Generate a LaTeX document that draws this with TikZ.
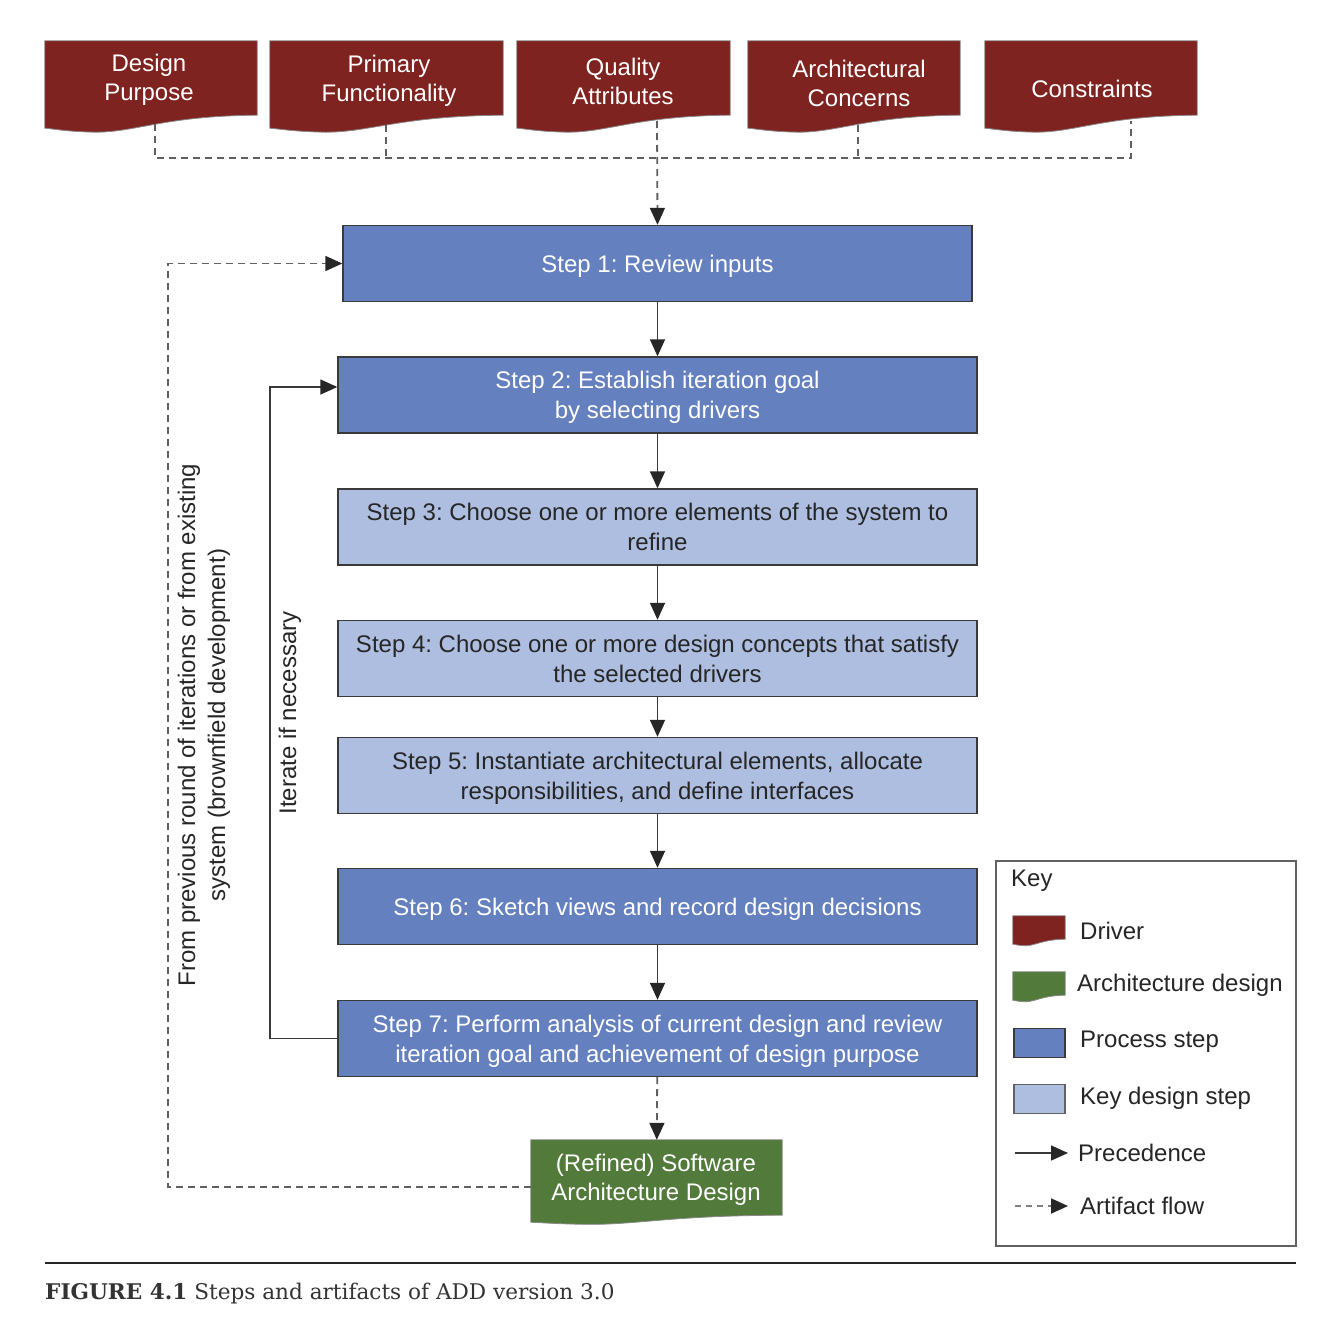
\documentclass[tikz,border=0pt]{standalone}
\usepackage{fontspec}
\setmainfont{Liberation Sans}
\newfontfamily\capfont{DejaVu Serif}
\usetikzlibrary{arrows.meta,calc}
\definecolor{drvred}{HTML}{7E2320}
\definecolor{stepdark}{HTML}{6580BE}
\definecolor{steplight}{HTML}{AEBEE0}
\definecolor{archgreen}{HTML}{527A3A}
\definecolor{edgegray}{HTML}{3A3A3A}
\definecolor{txtdark}{HTML}{262626}
\definecolor{dashgray}{HTML}{606060}
\frenchspacing
\tikzset{
  basefont/.style={font=\fontsize{24}{30}\selectfont},
  stepbox/.style={draw=edgegray,line width=1.4pt,minimum width=639pt,minimum height=76pt,
    inner sep=0pt,align=center,basefont,text depth=0pt},
  darkstep/.style={stepbox,fill=stepdark,text=white},
  lightstep/.style={stepbox,fill=steplight,text=txtdark},
  docnode/.style={inner sep=0pt,align=center,basefont,text=white,font=\fontsize{24}{29}\selectfont},
  prec/.style={draw=edgegray,line width=1.5pt,-{Triangle[length=17pt,width=15pt,color=black!85]}},
  art/.style={draw=dashgray,line width=1.8pt,dash pattern=on 7pt off 5pt},
  artarrow/.style={art,-{Triangle[length=17pt,width=15pt,color=black!85]}},
  keytxt/.style={anchor=west,inner sep=0pt,basefont,text=txtdark},
}
% wavy document shape drawn behind a named node
\newcommand{\wavedoc}[3]{% node name, fill colour, rise of right end
  \filldraw[fill=#2,draw=edgegray!60,line width=0.8pt]
    (#1.north west) -- (#1.north east) -- ($(#1.south east)+(0,-#3)$)
    .. controls ($(#1.south west)!0.55!(#1.south east)+(0,-#3*0.95)$)
             and ($(#1.south west)!0.42!(#1.south east)+(0,#3*0.4)$)
    .. ($(#1.south west)!0.22!(#1.south east)+(0,#3*0.3)$)
    .. controls ($(#1.south west)!0.1!(#1.south east)+(0,#3*0.25)$)
             and ($(#1.south west)!0.04!(#1.south east)+(0,#3*0.05)$)
    .. (#1.south west) -- cycle;}
\begin{document}
\begin{tikzpicture}[x=1pt,y=-1pt]
\useasboundingbox[fill=white] (0,0) rectangle (1334,1330);

% ---------- drivers ----------
\node[docnode,minimum width=212pt,minimum height=87pt] (dp) at (151,84.5) {};
\node[docnode,minimum width=233pt,minimum height=87pt] (pf) at (386.5,84.5) {};
\node[docnode,minimum width=213pt,minimum height=87pt] (qa) at (623.5,84.5) {};
\node[docnode,minimum width=212pt,minimum height=87pt] (ac) at (854,84.5) {};
\node[docnode,minimum width=212pt,minimum height=87pt] (ct) at (1091,84.5) {};
\wavedoc{dp}{drvred}{13}
\wavedoc{pf}{drvred}{13}
\wavedoc{qa}{drvred}{13}
\wavedoc{ac}{drvred}{13}
\wavedoc{ct}{drvred}{13}
\node[docnode] (dpt) at (149,80) {Design\\Purpose};
\node[docnode] (pft) at (389,81) {Primary\\Functionality};
\node[docnode] (qat) at (623,81) {Quality\\Attributes};
\node[docnode] (act) at (859,83) {Architectural\\Concerns};
\node[docnode] (ctt) at (1092,89) {Constraints};

\coordinate (dpb) at (155,124);
\coordinate (pfb) at (386,125);
\coordinate (qab) at (657,121);
\coordinate (acb) at (858,125);
\coordinate (ctb) at (1131,121);
\coordinate (bus) at (657,158);

% ---------- steps ----------
\node[darkstep,minimum width=629pt] (s1) at (657.5,263.5) {Step 1: Review inputs};
\node[darkstep] (s2) at (657.5,395) {Step 2: Establish iteration goal\\by selecting drivers};
\node[lightstep] (s3) at (657.5,527) {Step 3: Choose one or more elements of the system to\\refine};
\node[lightstep] (s4) at (657.5,658.5) {Step 4: Choose one or more design concepts that satisfy\\the selected drivers};
\node[lightstep] (s5) at (657.5,775.5) {Step 5: Instantiate architectural elements, allocate\\responsibilities, and define interfaces};
\node[darkstep] (s6) at (657.5,906.5) {Step 6: Sketch views and record design decisions};
\node[darkstep] (s7) at (657.5,1038.5) {Step 7: Perform analysis of current design and review\\iteration goal and achievement of design purpose};

% ---------- output artifact ----------
\node[docnode,minimum width=251pt,minimum height=82pt] (sad) at (656.5,1181) {};
\wavedoc{sad}{archgreen}{7}
\node[docnode] (sadt) at (656,1180) {(Refined) Software\\Architecture Design};

% ---------- artifact flow from drivers ----------
\draw[art] (dpb) -- (dpb |- bus) -- (ctb |- bus) -- (ctb);
\draw[art] (pfb) -- (pfb |- bus);
\draw[art] (acb) -- (acb |- bus);
\draw[artarrow] (qab) -- (s1.north);

% ---------- precedence ----------
\draw[prec] (s1) -- (s2);
\draw[prec] (s2) -- (s3);
\draw[prec] (s3) -- (s4);
\draw[prec] (s4) -- (s5);
\draw[prec] (s5) -- (s6);
\draw[prec] (s6) -- (s7);
\draw[artarrow] (s7) -- (sad);

% iterate loop
\coordinate (itx) at (270,0);
\draw[prec] (s7.west) -- (s7.west -| itx) -- ($(s2.west -| itx)+(0,-8)$) -- ($(s2.west)+(0,-8)$);
\node[basefont,text=txtdark,rotate=90] (itl) at (290,713) {Iterate if necessary};

% previous round loop
\coordinate (prx) at (168,0);
\draw[artarrow] (sad.west |- 0,1187) -- (prx |- 0,1187) -- (s1.west -| prx) -- (s1.west);
\node[basefont,text=txtdark,rotate=90,align=center] (prl) at (204,725)
  {From previous round of iterations or from existing\\system (brownfield development)};

% ---------- key ----------
\node[draw=edgegray!80,line width=1.2pt,minimum width=300pt,minimum height=385pt,inner sep=0pt] (key) at (1146,1053.5) {};
\node[keytxt] (keyt) at (1011,881) {Key};
\node[docnode,minimum width=52pt,minimum height=28pt] (kd) at (1039,930) {};
\wavedoc{kd}{drvred}{5}
\node[keytxt] (kdt) at (1080,931) {Driver};
\node[docnode,minimum width=52pt,minimum height=28pt] (ka) at (1039,986) {};
\wavedoc{ka}{archgreen}{5}
\node[keytxt] (kat) at (1077,985) {Architecture design};
\node[draw=edgegray,line width=1.2pt,fill=stepdark,minimum width=51pt,minimum height=29pt,inner sep=0pt] (kp) at (1039.5,1043) {};
\node[keytxt] (kpt) at (1080,1042) {Process step};
\node[draw=edgegray!80,line width=1.2pt,fill=steplight,minimum width=51pt,minimum height=29pt,inner sep=0pt] (kk) at (1039.5,1099) {};
\node[keytxt] (kkt) at (1080,1098) {Key design step};
\coordinate (kpa) at (1015,1153);
\coordinate (kpb) at (1068,1153);
\node[keytxt] (kprt) at (1078,1153) {Precedence};
\draw[prec] (kpa) -- (kpb);
\coordinate (kaa) at (1015,1206);
\coordinate (kab) at (1068,1206);
\node[keytxt] (kaft) at (1080,1206) {Artifact flow};
\draw[artarrow,dash pattern=on 6pt off 5pt,draw=gray] (kaa) -- (kab);

% ---------- caption ----------
\coordinate (rl) at (45,1263);
\coordinate (rr) at (1296,1263);
\draw[line width=1.3pt,black!85] (rl) -- (rr);
\node[anchor=base west,inner sep=0pt,text=black!80,font=\capfont\fontsize{21.6}{25}\selectfont] (cap) at (45,1299)
  {\textbf{FIGURE 4.1} Steps and artifacts of ADD version 3.0};
\end{tikzpicture}
\end{document}
